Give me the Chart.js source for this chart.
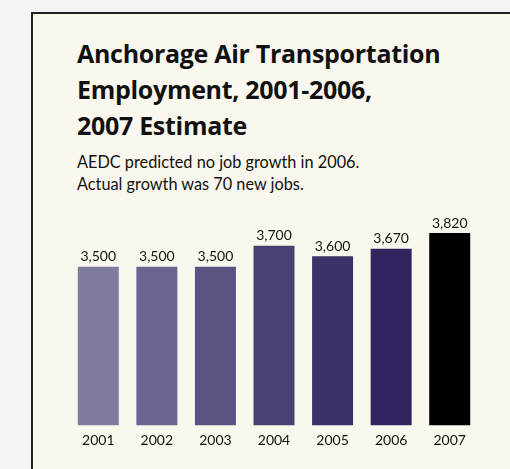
<!DOCTYPE html>
<html>
<head>
<meta charset="utf-8">
<script src="https://cdn.jsdelivr.net/npm/chart.js@4/dist/chart.umd.min.js"></script>
<style>
  html, body { margin: 0; padding: 0; }
  body { width: 510px; height: 469px; background: #f4f4f4; position: relative; overflow: hidden; font-family: Lato, sans-serif; }
  #panel { position: absolute; left: 31px; top: 12px; width: 520px; height: 480px; background: #faf8ee; border: 2px solid #222; box-sizing: border-box; }
  #title { position: absolute; left: 77px; top: 35px; font-family: "Open Sans", sans-serif; font-size: 25px; font-weight: bold; line-height: 36px; color: #111; letter-spacing: -0.3px; }
  #sub { position: absolute; left: 77px; top: 151px; font-size: 16.3px; line-height: 22px; color: #111; }
  #wrap { position: absolute; left: 0; top: 0; width: 510px; height: 469px; }
</style>
</head>
<body>
<div id="panel"></div>
<div id="title">Anchorage Air Transportation<br>Employment, 2001-2006,<br>2007 Estimate</div>
<div id="sub">AEDC predicted no job growth in 2006.<br>Actual growth was 70 new jobs.</div>
<div id="wrap"><canvas id="chart"></canvas></div>
<script>
const years = ["2001", "2002", "2003", "2004", "2005", "2006", "2007"];
const jobs = [3500, 3500, 3500, 3700, 3600, 3670, 3820];
const barColors = ["#817b9e", "#6d648f", "#5c5282", "#4a4072", "#3d3169", "#33245f", "#000000"];

// numbers over the bars
const valueLabels = {
  id: "valueLabels",
  afterDatasetsDraw(chart) {
    const ctx = chart.ctx;
    const meta = chart.getDatasetMeta(0);
    ctx.save();
    ctx.font = "14px Lato, sans-serif";
    ctx.fillStyle = "#111";
    ctx.textAlign = "center";
    ctx.textBaseline = "bottom";
    meta.data.forEach((bar, i) => {
      ctx.fillText(jobs[i].toLocaleString("en-US"), bar.x, bar.y - 3);
    });
    ctx.restore();
  },
};

let ctx = document.getElementById("chart").getContext("2d");

const myChart = new Chart(ctx, {
  type: "bar",
  data: {
    labels: years,
    datasets: [
      {
        label: "Employment",
        data: jobs,
        backgroundColor: barColors,
        categoryPercentage: 1,
        barPercentage: 0.7,
      },
    ],
  },
  options: {
    responsive: true,
    maintainAspectRatio: false,
    animation: false,
    layout: {
      padding: { left: 69, right: 31, top: 214, bottom: 13 },
    },
    plugins: {
      legend: { display: false },
      tooltip: { enabled: false },
    },
    scales: {
      x: {
        grid: { display: false, drawTicks: false },
        border: { display: false },
        ticks: {
          color: "#111",
          padding: 7,
          font: { family: "Lato", size: 14 },
        },
      },
      y: {
        display: false,
        min: 2000,
        max: 4000,
      },
    },
  },
  plugins: [valueLabels],
});
</script>
</body>
</html>
